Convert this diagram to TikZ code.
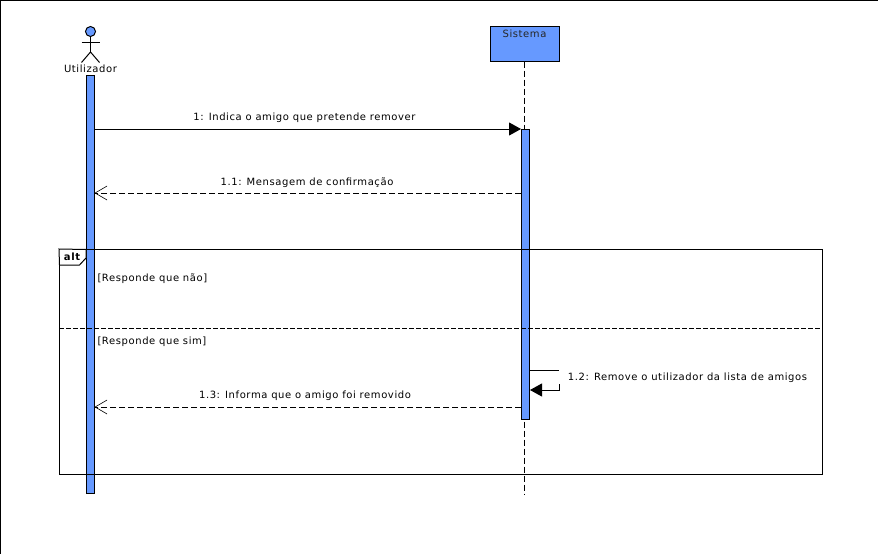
\documentclass[tikz,border=0pt]{standalone}
\usepackage{fontspec}
\setmainfont{DejaVu Sans}[LetterSpace=6]
\usetikzlibrary{arrows.meta}
\definecolor{umlblue}{RGB}{102,153,255}
\begin{document}
\begin{tikzpicture}
    [
      x=1pt,
      y=-1pt,
      line width=1pt,
      bar/.style=
      {
        draw,
        fill=umlblue,
        inner sep=0pt,
        minimum width=8pt,
      },
      msg/.style=
      {
        inner sep=0pt,
        text=black,
        font=\fontsize{10}{12}\selectfont
      },
      call/.style=
      {
        -{Triangle[length=12pt,width=13pt]},
      },
      reply/.style=
      {
        dashed,
        dash pattern=on 6pt off 3pt,
        -{Straight Barb[length=12pt,width=14pt,line width=0.6pt]},
      }
    ]
    \useasboundingbox (0,0) rectangle (878,554);
    \draw (0,0.5) -- (878,0.5);
    \draw (0.5,0) -- (0.5,554);

    % actor
    \node[circle, draw, fill=umlblue, inner sep=0pt, minimum size=10pt](Head) at (90.5,31.5) {};
    \coordinate (Hip) at (90.5,52);
    \coordinate (ArmL) at (81.5,42.5);
    \coordinate (ArmR) at (99.5,42.5);
    \coordinate (LegL) at (81.5,62.5);
    \coordinate (LegR) at (99.5,62.5);
    \draw (Head.south) -- (Hip);
    \draw (ArmL) -- (ArmR);
    \draw (LegL) -- (Hip) -- (LegR);
    \node[msg](Actor) at (90.5,69) {Utilizador};

    % sistema
    \node[draw, fill=umlblue, inner sep=0pt, minimum width=69pt, minimum height=35pt](Sistema) at (525,44) {};
    \node[msg, text=black!85](SistemaTxt) at (524.5,33.5) {Sistema};
    \coordinate (LifeEnd) at (524.5,495);
    \draw[dashed, dash pattern=on 6pt off 3pt] (524.5,61.5) -- (LifeEnd);

    % activations
    \node[bar, minimum height=418pt](BarUser) at (90,284) {};
    \node[bar, minimum height=290pt](BarSys) at (525.5,274) {};

    % messages
    \coordinate (M1a) at (BarUser.east |- 0,129);
    \coordinate (M1b) at (BarSys.west |- 0,129);
    \coordinate (M2a) at (BarSys.west |- 0,193);
    \coordinate (M2b) at (BarUser.east |- 0,193);
    \coordinate (M3a) at (BarSys.east |- 0,370.5);
    \coordinate (M3b) at (558.5,370.5);
    \coordinate (M3e) at (559.5,384);
    \coordinate (M3c) at (559.5,390);
    \coordinate (M3d) at (BarSys.east |- 0,390);
    \coordinate (M4a) at (BarSys.west |- 0,407);
    \coordinate (M4b) at (BarUser.east |- 0,407);
    \draw[call] (M1a) -- (M1b);
    \draw[reply] (M2a) -- (M2b);
    \draw (M3a) -- (M3b);
    \draw[call] (M3e) -- (M3c) -- (M3d);
    \draw[reply] (M4a) -- (M4b);
    \node[msg](T1) at (304.5,118.2) {1: Indica o amigo que pretende remover};
    \node[msg](T2) at (307,182.2) {1.1: Mensagem de confirmação};
    \node[msg](T3) at (687.5,378.2) {1.2: Remove o utilizador da lista de amigos};
    \node[msg](T4) at (305,396.2) {1.3: Informa que o amigo foi removido};

    % alt
    \node[draw, inner sep=0pt, minimum width=763pt, minimum height=225pt](Alt) at (441,362) {};
    \draw[fill=white] (Alt.north west) -- (86,249.5) -- (86,258) -- (79.5,265) -- (59.5,265) -- cycle;
    \node[msg, font=\fontsize{10}{12}\selectfont\bfseries](AltTxt) at (72,256.5) {alt};
    \draw[dashed, dash pattern=on 5pt off 2pt] (Alt.west |- 0,328.5) -- (Alt.east |- 0,328.5);
    \node[msg, anchor=west](G1) at (97,279) {[Responde que não]};
    \node[msg, anchor=west](G2) at (97,342) {[Responde que sim]};
\end{tikzpicture}
\end{document}
